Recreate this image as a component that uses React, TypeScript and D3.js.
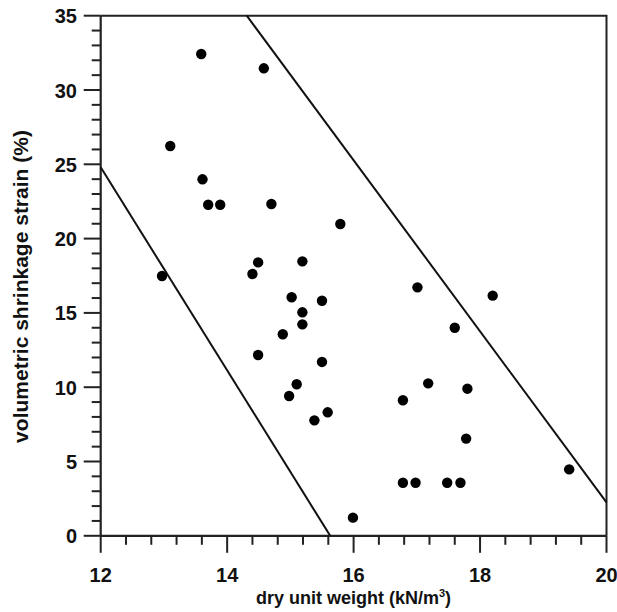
import React from "react";
import * as d3 from "d3";

const unitWeight = [
  13.59, 14.58, 13.10, 13.61, 13.70, 13.89, 14.70, 15.79,
  12.97, 14.49, 14.40, 15.19, 15.02, 15.50, 15.19, 15.19, 14.88, 14.49, 15.50, 15.10, 14.98, 15.59, 15.38,
  15.99,
  17.01, 18.20, 17.60, 17.18, 17.80, 16.78, 17.78, 19.41, 16.78, 16.98, 17.48, 17.69,
];
const shrinkage = [
  32.42, 31.46, 26.23, 23.99, 22.28, 22.28, 22.33, 20.98,
  17.48, 18.40, 17.62, 18.47, 16.05, 15.82, 15.04, 14.23, 13.56, 12.17, 11.70, 10.20, 9.41, 8.31, 7.77,
  1.22,
  16.72, 16.16, 14.00, 10.26, 9.90, 9.12, 6.54, 4.47, 3.57, 3.57, 3.57, 3.57,
];
const lowerLine: [number, number][] = [[12, 24.8], [15.63, 0]];
const upperLine: [number, number][] = [[14.31, 35], [20, 2.25]];
const xMajorTicks = [12, 14, 16, 18, 20];
const yMajorTicks = [0, 5, 10, 15, 20, 25, 30, 35];
const xTitle = "dry unit weight (kN/m";
const yTitle = "volumetric shrinkage strain (%)";

export default function App() {
  const W = 617, H = 612;
  const x = d3.scaleLinear().domain([12, 20]).range([100.7, 606.5]);
  const y = d3.scaleLinear().domain([0, 35]).range([535.8, 15.7]);
  const xMinor = d3.range(0, 21).map((i) => 12 + i * 0.4).filter((v) => !xMajorTicks.some((m) => Math.abs(m - v) < 1e-6));
  const yMinor = d3.range(0, 36).filter((v) => v % 5 !== 0);
  const line = d3.line<[number, number]>().x((d) => x(d[0])).y((d) => y(d[1]));
  const font = "'Liberation Sans', Arial, sans-serif";
  const x0 = x(12), x1 = x(20), y0 = y(0), y1 = y(35);
  return (
    <svg width={W} height={H} style={{ position: "absolute", left: 0, top: 0, background: "#fff" }}>
      <rect width={W} height={H} fill="#fff" />
      {/* frame */}
      <path d={`M${x0},${y1}H${x1}V${y0}`} fill="none" stroke="#222" strokeWidth={2} />
      <line x1={x0} x2={x0} y1={y1} y2={y0} stroke="#222" strokeWidth={2.2} />
      <line x1={x0} x2={x1} y1={y0} y2={y0} stroke="#222" strokeWidth={2.2} />
      {/* x ticks */}
      {xMajorTicks.map((t) => (
        <g key={"xm" + t}>
          <line x1={x(t)} x2={x(t)} y1={y0} y2={y0 + 17} stroke="#222" strokeWidth={2} />
          <text x={x(t)} y={582} textAnchor="middle" fontFamily={font} fontWeight="bold" fontSize={20} fill="#111">{t}</text>
        </g>
      ))}
      {xMinor.map((t, i) => (
        <line key={"xn" + i} x1={x(t)} x2={x(t)} y1={y0} y2={y0 + 9} stroke="#222" strokeWidth={2} />
      ))}
      {/* y ticks */}
      {yMajorTicks.map((t) => (
        <g key={"ym" + t}>
          <line x1={x0 - 17} x2={x0} y1={y(t)} y2={y(t)} stroke="#222" strokeWidth={2} />
          <text x={77} y={y(t) + 7.5} textAnchor="end" fontFamily={font} fontWeight="bold" fontSize={20} fill="#111">{t}</text>
        </g>
      ))}
      {yMinor.map((t) => (
        <line key={"yn" + t} x1={x0 - 9} x2={x0} y1={y(t)} y2={y(t)} stroke="#222" strokeWidth={2} />
      ))}
      {/* boundary lines */}
      <path d={line(lowerLine) || ""} fill="none" stroke="#111" strokeWidth={2} />
      <path d={line(upperLine) || ""} fill="none" stroke="#111" strokeWidth={2} />
      {/* points */}
      {unitWeight.map((u, i) => (
        <circle key={"p" + i} cx={x(u)} cy={y(shrinkage[i])} r={5.2} fill="#000" />
      ))}
      {/* titles */}
      <text x={353.5} y={604} textAnchor="middle" fontFamily={font} fontWeight="bold" fontSize={18} fill="#111">
        {xTitle}
        <tspan fontSize={11} dy={-7}>3</tspan>
        <tspan dy={7}>)</tspan>
      </text>
      <text transform={`translate(28,286.5) rotate(-90)`} textAnchor="middle" fontFamily={font} fontWeight="bold" fontSize={21} fill="#111">
        {yTitle}
      </text>
    </svg>
  );
}
